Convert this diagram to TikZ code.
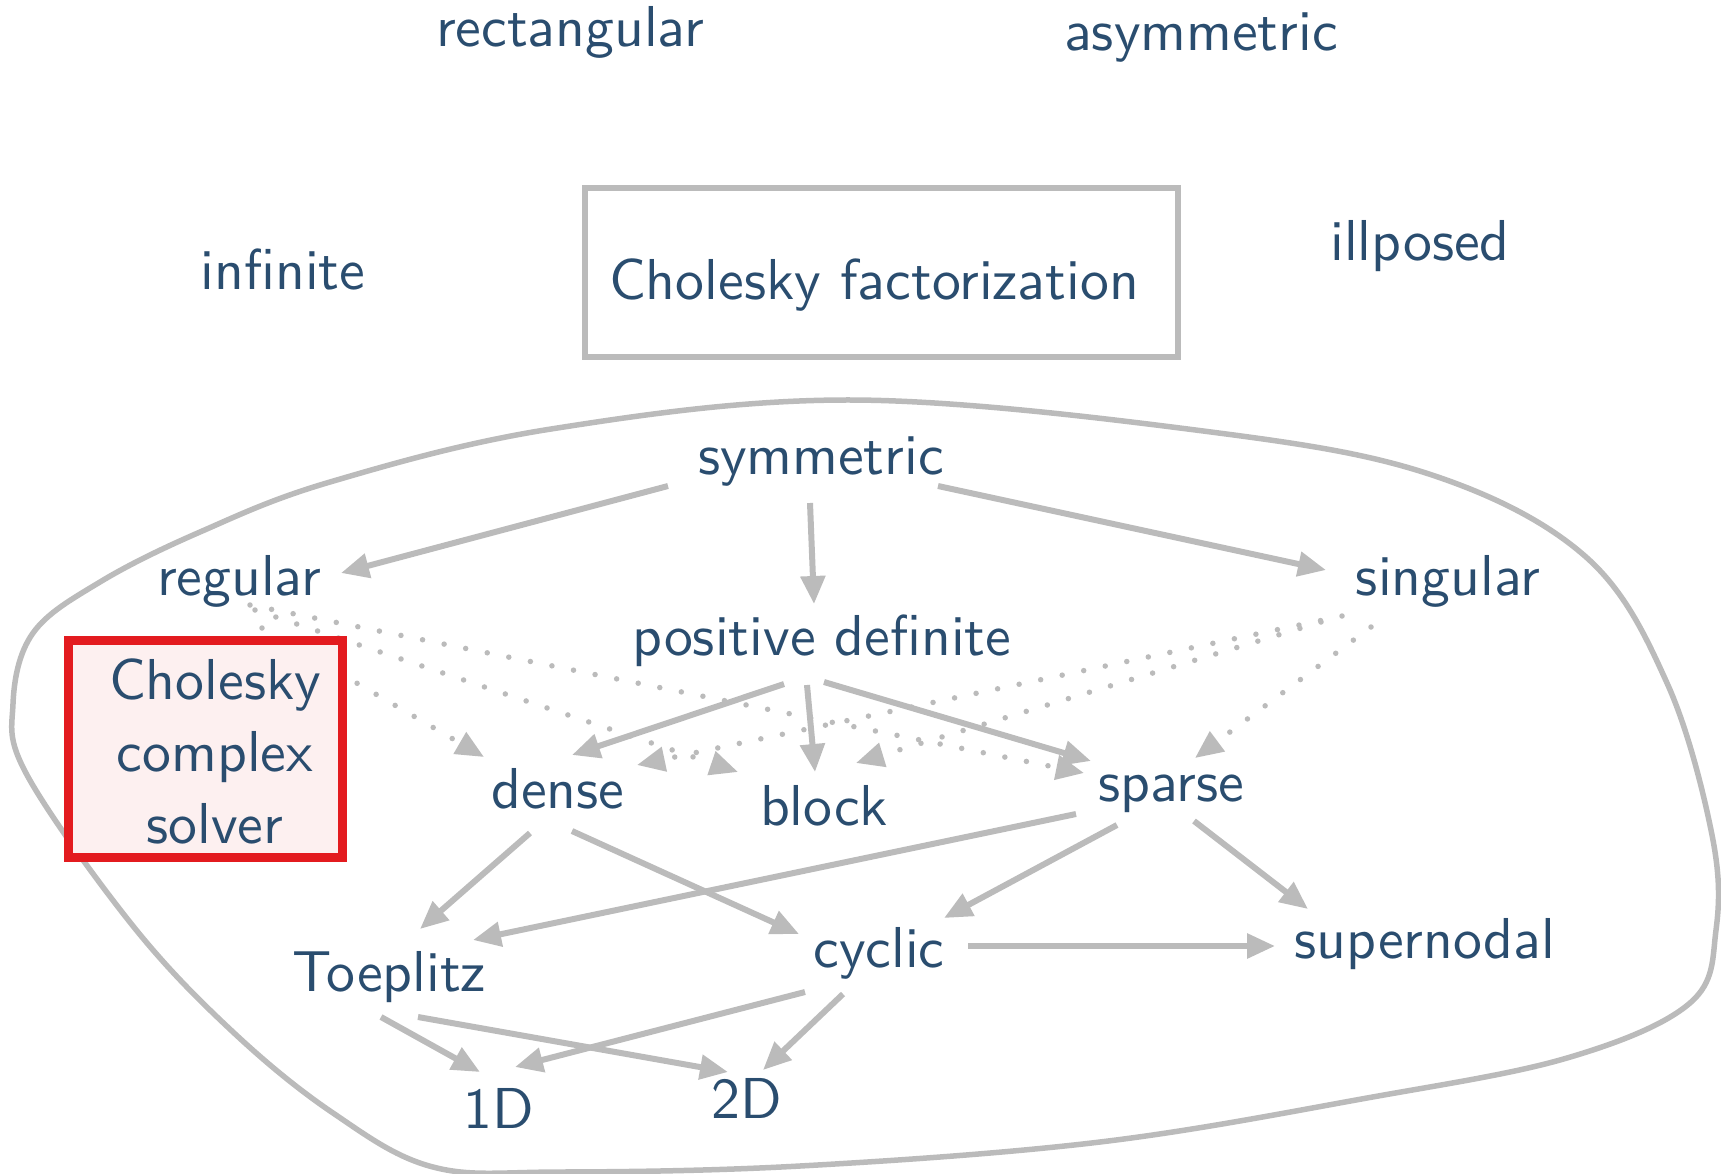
\documentclass[tikz,border=0pt]{standalone}
\usepackage{fontspec}
\setsansfont{lmsans10-regular.otf}
\usetikzlibrary{arrows.meta}
\definecolor{txtblue}{RGB}{42,77,111}
\definecolor{edgegray}{RGB}{187,187,187}
\definecolor{boxred}{RGB}{227,27,31}
\definecolor{boxfill}{RGB}{253,240,240}
\begin{document}
\begin{tikzpicture}[x=1pt,y=-1pt,
  term/.style={font=\sffamily\fontsize{57.7}{72}\selectfont, text=txtblue,
    anchor=base, inner xsep=22pt, inner ysep=12pt, text height=40pt, text depth=12pt},
  edge/.style={draw=edgegray, line width=6pt, -{Triangle[length=28pt,width=24pt]}},
  weak/.style={edge, line cap=round, dash pattern=on 0pt off 22pt, line width=5.5pt},
  hull/.style={draw=edgegray, line width=5.5pt},
]
\useasboundingbox (0,0) rectangle (1721,1173);

% region enclosing the symmetric family
\draw[hull] plot[smooth cycle, tension=0.6] coordinates {
  (853,400) (1211,432) (1432,475) (1586,557) (1667,683) (1712,835) (1716,930)
  (1690,1003) (1567,1058) (1367,1098) (1100,1142) (800,1166) (560,1172)
  (433,1167) (333,1113) (233,1032) (133,926) (27,775) (13,704) (33,633)
  (100,582) (200,532) (330,482) (551,429)};

% outside terms
\node[term] (rect) at (570,46) {rectangular};
\node[term] (asym) at (1201,50) {asymmetric};
\node[term] (inf) at (283,289) {infinite};
\node[term] (ill) at (1420,260) {illposed};

% method box
\node[draw=edgegray, line width=6pt, minimum width=593pt, minimum height=169pt,
  inner sep=0pt] (cholbox) at (881.5,272.5) {};
\node[term] (chol) at (874,299) {Cholesky factorization};

% graph nodes
\node[term] (sym) at (821,474) {symmetric};
\node[term] (reg) at (239,595) {regular};
\node[term] (sing) at (1448,595) {singular};
\node[term] (pd) at (822,655) {positive definite};
\node[term] (dense) at (558,808) {dense};
\node[term] (block) at (824,825) {block};
\node[term] (sparse) at (1171,801) {sparse};
\node[term] (toep) at (389,991) {Toeplitz};
\node[term] (cyc) at (879,967) {cyclic};
\node[term] (super) at (1425,958) {supernodal};
\node[term] (oned) at (499,1128) {1D};
\node[term] (twod) at (747,1118) {2D};

% implications
\draw[edge] ([shift={(-153,12)}]sym.base) -- ([shift={(102,-22)}]reg.base);
\draw[edge] ([shift={(-11,29)}]sym.base) -- ([shift={(-8,-51)}]pd.base);
\draw[edge] ([shift={(117,12)}]sym.base) -- ([shift={(-122,-25)}]sing.base);
\draw[edge] ([shift={(-38,29)}]pd.base) -- ([shift={(14,-53)}]dense.base);
\draw[edge] ([shift={(-15,30)}]pd.base) -- ([shift={(-9,-53)}]block.base);
\draw[edge] ([shift={(2,27)}]pd.base) -- ([shift={(-80,-40)}]sparse.base);
\draw[edge] ([shift={(-28,25)}]dense.base) -- ([shift={(31,-62)}]toep.base);
\draw[edge] ([shift={(14,23)}]dense.base) -- ([shift={(-80,-33)}]cyc.base);
\draw[edge] ([shift={(-95,13)}]sparse.base) -- ([shift={(84,-51)}]toep.base);
\draw[edge] ([shift={(-54,24)}]sparse.base) -- ([shift={(65,-49)}]cyc.base);
\draw[edge] ([shift={(23,20)}]sparse.base) -- ([shift={(-117,-49)}]super.base);
\draw[edge] ([shift={(89,-21)}]cyc.base) -- ([shift={(-150,-12)}]super.base);
\draw[edge] ([shift={(-74,25)}]cyc.base) -- ([shift={(16,-61)}]oned.base);
\draw[edge] ([shift={(-36,27)}]cyc.base) -- ([shift={(16,-48)}]twod.base);
\draw[edge] ([shift={(-8,26)}]toep.base) -- ([shift={(-19,-56)}]oned.base);
\draw[edge] ([shift={(29,26)}]toep.base) -- ([shift={(-19,-46)}]twod.base);

% weaker implications
\draw[weak] ([shift={(23,33)}]reg.base) -- ([shift={(-74,-51)}]dense.base);
\draw[weak] ([shift={(16,15)}]reg.base) -- ([shift={(-86,-53)}]block.base);
\draw[weak] ([shift={(11,10)}]reg.base) -- ([shift={(-87,-28)}]sparse.base);
\draw[weak] ([shift={(-106,21)}]sing.base) -- ([shift={(79,-43)}]dense.base);
\draw[weak] ([shift={(-127,27)}]sing.base) -- ([shift={(32,-62)}]block.base);
\draw[weak] ([shift={(-77,32)}]sing.base) -- ([shift={(24,-43)}]sparse.base);

% solver box
\node[draw=boxred, fill=boxfill, line width=9pt, minimum width=274pt,
  minimum height=217pt, inner sep=0pt] (solverbox) at (205.5,749) {};
\node[font=\sffamily\fontsize{57.7}{72}\selectfont, text=txtblue, align=center,
  inner sep=0pt] (solver) at (215,751) {Cholesky\\complex\\solver};
\end{tikzpicture}
\end{document}
